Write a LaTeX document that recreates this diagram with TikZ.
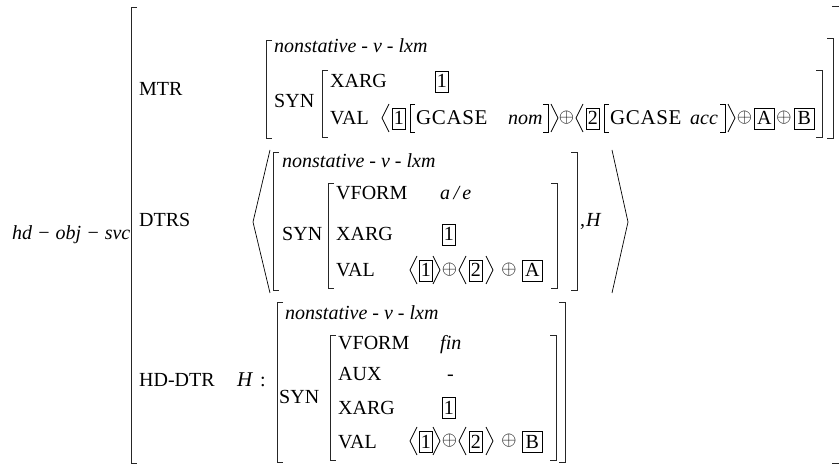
\RequirePackage{fix-cm}
\documentclass[tikz,border=0pt]{standalone}
\usepackage{fontspec}
\setmainfont{Liberation Serif}
\newcommand\brL[4]{\draw[brk] ({#1+#4},#2) -- (#1,#2) -- (#1,#3) -- ({#1+#4},#3);}
\newcommand\brR[4]{\draw[brk] ({#1-#4},#2) -- (#1,#2) -- (#1,#3) -- ({#1-#4},#3);}
\newcommand\angL[2]{\draw[abrk] ({#1+7},{#2-21}) -- (#1,{#2-7}) -- ({#1+7},{#2+7});}
\newcommand\angR[2]{\draw[abrk] (#1,{#2-21}) -- ({#1+7},{#2-7}) -- (#1,{#2+7});}
\newcommand\sqL[2]{\draw[abrk] ({#1+5},{#2-21}) -- (#1,{#2-21}) -- (#1,{#2+7}) -- ({#1+5},{#2+7});}
\newcommand\sqR[2]{\draw[abrk] ({#1-5},{#2-21}) -- (#1,{#2-21}) -- (#1,{#2+7}) -- ({#1-5},{#2+7});}
\begin{document}
\begin{tikzpicture}[x=1pt,y=-1pt,
  every node/.style={inner sep=0pt, anchor=base west, font=\fontsize{20}{24}\selectfont},
  brk/.style={line width=0.8pt, draw=black!85},
  abrk/.style={line width=0.7pt, draw=black},
  tagbox/.style={draw, line width=0.6pt, inner xsep=1.6pt, inner ysep=0pt, text height=16.5pt, text depth=4.5pt},
  lettbox/.style={tagbox, minimum width=20pt, align=center},
  osum/.style={anchor=center, font=\fontsize{19.5}{22}\selectfont},
  wide/.style={font=\fontsize{21}{24}\selectfont\addfontfeatures{LetterSpace=3}},
  it/.style={font=\fontsize{20}{24}\selectfont\itshape}]
\useasboundingbox (0,0) rectangle (839,465);

% outer matrix
\node[it] (type) at (12,240) {hd − obj − svc};
\brL{131}{7}{463}{6}
\draw[brk] (832,6) -- (840,6) -- (840,463) -- (832,463);
\node (mtr) at (139,96) {MTR};
\node (dtrs) at (139,227) {DTRS};
\node (hddtr) at (139,387) {HD-DTR};
\node[it,font=\fontsize{21}{24}\selectfont\itshape] (hH) at (237,387) {H};
\node (hcolon) at (260,387) {:};

% ---------- MTR ----------
\brL{266}{40}{138}{6}
\brR{833}{38}{138}{6}
\node[it] (mtype) at (274,53) {nonstative - v - lxm};
\node (msyn) at (274,108) {SYN};
\brL{322}{70}{137}{6}
\brR{822}{70}{137}{6}
\node (mxarg) at (330,88) {XARG};
\node[tagbox] (mx1) at (435,88) {1};
\node (mval) at (330,125) {VAL};
\angL{382}{125}
\node[tagbox] (mv1) at (392,125) {1};
\sqL{410}{125}
\node[wide] (mg1) at (416,125) {GCASE};
\node[it] (mnom) at (508,125) {nom};
\sqR{548}{125}
\angR{551}{125}
\node[osum] (mo1) at (566.5,118) {$\oplus$};
\angL{576}{125}
\node[tagbox] (mv2) at (586,125) {2};
\sqL{604}{125}
\node[wide] (mg2) at (610,125) {GCASE};
\node[it] (macc) at (690,125) {acc};
\sqR{725}{125}
\angR{728}{125}
\node[osum] (mo2) at (744.5,118) {$\oplus$};
\node[lettbox] (mA) at (754,125) {A};
\node[osum] (mo3) at (784,118) {$\oplus$};
\node[lettbox] (mB) at (794,125) {B};

% ---------- DTRS ----------
\draw[abrk] (270,150) -- (253,222) -- (270,293);
\draw[abrk] (612,150) -- (628,222) -- (612,293);
\brL{273}{152}{290}{6}
\brR{577}{152}{290}{6}
\node[it] (dtype) at (282,168) {nonstative - v - lxm};
\node (dsyn) at (282,241) {SYN};
\brL{328}{183}{288}{6}
\brR{557}{183}{288}{6}
\node (dvform) at (336,200) {VFORM};
\node[it] (dae) at (440,200) {a\,/\,e};
\node (dxarg) at (336,241) {XARG};
\node[tagbox] (dx1) at (442,241) {1};
\node (dval) at (336,277) {VAL};
\angL{410}{277}
\node[tagbox] (dv1) at (419,277) {1};
\angR{433}{277}
\node[osum] (do1) at (449.5,270) {$\oplus$};
\angL{459}{277}
\node[tagbox] (dv2) at (469,277) {2};
\angR{486}{277}
\node[osum] (do2) at (509,270) {$\oplus$};
\node[lettbox] (dA) at (522,277) {A};
\node (dcomma) at (580,227) {,};
\node[it] (dH) at (586,227) {H};

% ---------- HD-DTR ----------
\brL{277}{302}{462}{6}
\brR{565}{302}{462}{6}
\node[it] (htype) at (285,320) {nonstative - v - lxm};
\node (hsyn) at (279,403) {SYN};
\brL{330}{335}{460}{6}
\brR{556}{335}{460}{6}
\node (hvform) at (338,350) {VFORM};
\node[it] (hfin) at (440,350) {fin};
\node (haux) at (338,381) {AUX};
\node (hminus) at (447,381) {-};
\node (hxarg) at (338,414) {XARG};
\node[tagbox] (hx1) at (442,414) {1};
\node (hval) at (338,448) {VAL};
\angL{410}{448}
\node[tagbox] (hv1) at (419,448) {1};
\angR{433}{448}
\node[osum] (ho1) at (449.5,441) {$\oplus$};
\angL{459}{448}
\node[tagbox] (hv2) at (469,448) {2};
\angR{486}{448}
\node[osum] (ho2) at (509,441) {$\oplus$};
\node[lettbox] (hB) at (522,448) {B};
\end{tikzpicture}
\end{document}
